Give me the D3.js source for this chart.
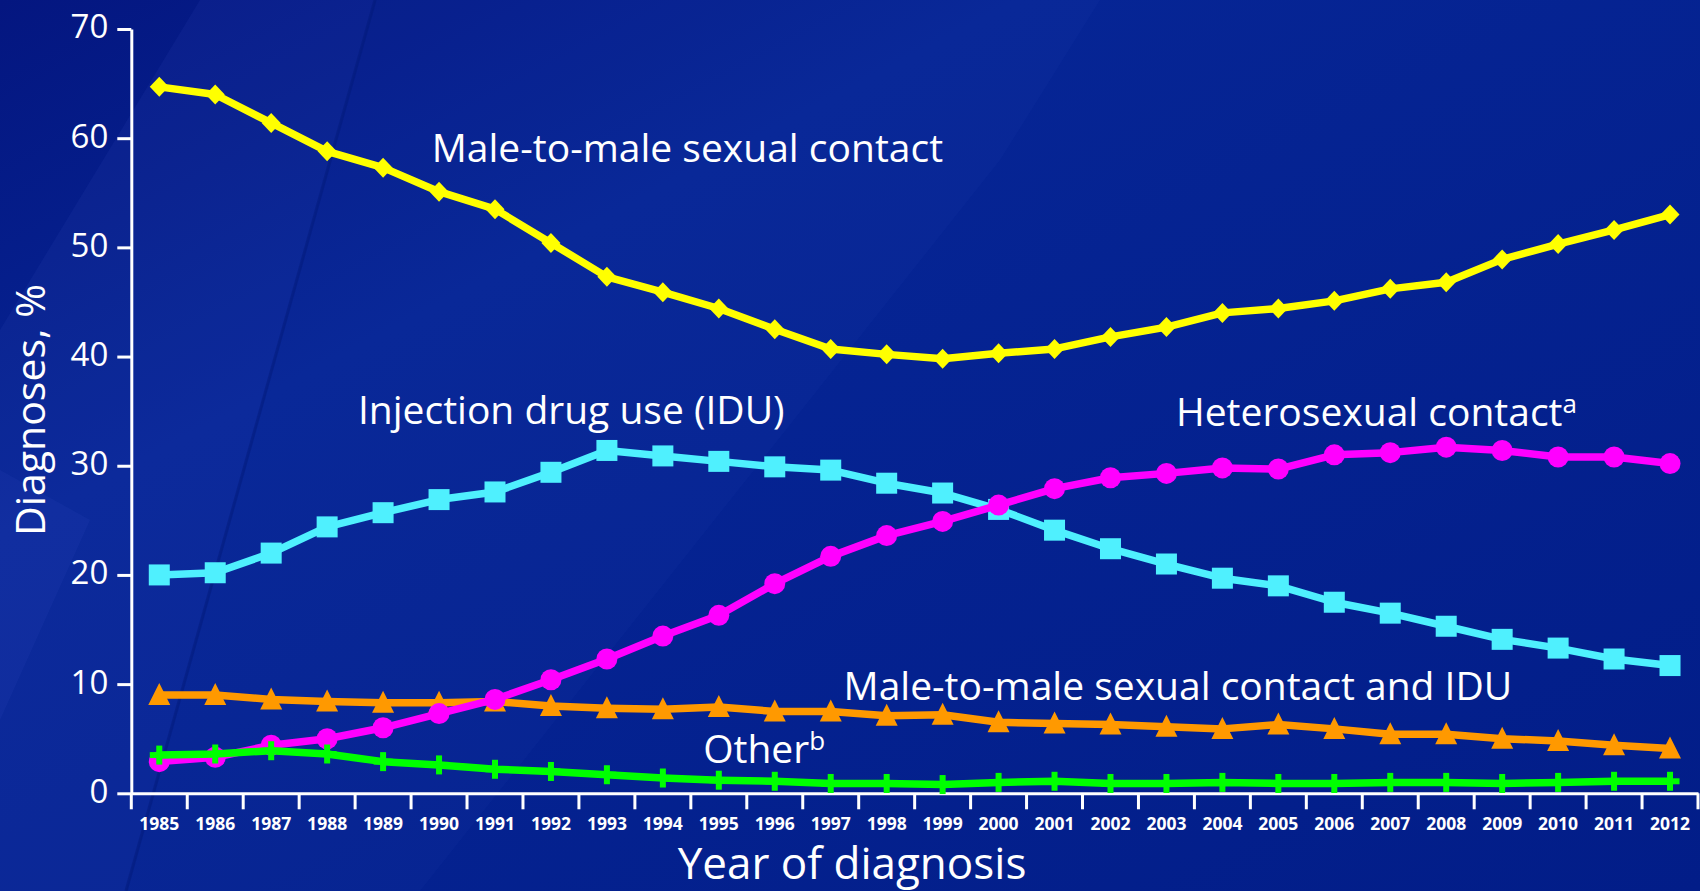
<!DOCTYPE html>
<html>
<head>
  <meta charset="utf-8">
  <title>HIV diagnoses by transmission category, 1985-2012</title>
  <script src="https://d3js.org/d3.v7.min.js"></script>
  <style>
    html, body { margin: 0; padding: 0; background: #03208c; }
    svg { display: block; font-family: "Open Sans", "Noto Sans", sans-serif; }
    .axis path, .axis line { stroke: #fff; stroke-width: 3; }
    .axis text { fill: #fff; }
  </style>
</head>
<body>
  <svg id="chart" width="1700" height="891"></svg>

  <script>
    // Data
    var years = ["1985", "1986", "1987", "1988", "1989", "1990", "1991", "1992", "1993", "1994",
                 "1995", "1996", "1997", "1998", "1999", "2000", "2001", "2002", "2003", "2004",
                 "2005", "2006", "2007", "2008", "2009", "2010", "2011", "2012"];

    var msm = [64.7, 64.0, 61.4, 58.8, 57.3, 55.1, 53.5, 50.4, 47.3, 45.9, 44.4, 42.5, 40.7, 40.2,
               39.8, 40.3, 40.7, 41.8, 42.7, 44.0, 44.4, 45.1, 46.2, 46.8, 48.9, 50.3, 51.6, 53.0];
    var idu = [20.0, 20.2, 22.0, 24.4, 25.7, 26.9, 27.6, 29.4, 31.4, 30.9, 30.4, 29.9, 29.6, 28.4,
               27.5, 26.0, 24.1, 22.4, 21.0, 19.7, 19.0, 17.5, 16.5, 15.3, 14.1, 13.3, 12.3, 11.7];
    var hetero = [2.9, 3.3, 4.4, 5.0, 6.0, 7.3, 8.6, 10.4, 12.3, 14.4, 16.3, 19.2, 21.7, 23.6,
                  24.9, 26.4, 27.9, 28.9, 29.3, 29.8, 29.7, 31.0, 31.2, 31.7, 31.4, 30.8, 30.8, 30.2];
    var msmIdu = [9.0, 9.0, 8.6, 8.4, 8.3, 8.3, 8.4, 8.0, 7.8, 7.7, 7.9, 7.5, 7.5, 7.1,
                  7.2, 6.5, 6.4, 6.3, 6.1, 5.9, 6.3, 5.9, 5.4, 5.4, 5.0, 4.8, 4.4, 4.1];
    var other = [3.5, 3.6, 3.9, 3.6, 2.9, 2.6, 2.2, 2.0, 1.7, 1.4, 1.2, 1.1, 0.9, 0.9,
                 0.8, 1.0, 1.1, 0.9, 0.9, 1.0, 0.9, 0.9, 1.0, 1.0, 0.9, 1.0, 1.1, 1.1];

    var yTicks = [0, 10, 20, 30, 40, 50, 60, 70];

    var width = 1700, height = 891;
    var svg = d3.select("#chart");

    // Background: deep blue with faint diagonal streaks
    var defs = svg.append("defs");
    var bg = defs.append("linearGradient").attr("id", "bg")
      .attr("x1", "0").attr("y1", "0").attr("x2", "1").attr("y2", "1");
    bg.append("stop").attr("offset", "0").attr("stop-color", "#041680");
    bg.append("stop").attr("offset", "0.3").attr("stop-color", "#062595");
    bg.append("stop").attr("offset", "1").attr("stop-color", "#021d88");
    svg.append("rect").attr("width", width).attr("height", height).attr("fill", "url(#bg)");

    var streaks = [
      { pts: [[0, 891], [126, 891], [375, 0], [200, 0], [0, 330]], op: 0.06 },
      { pts: [[126, 891], [420, 891], [1000, 160], [1100, 0], [375, 0]], op: 0.035 },
      { pts: [[0, 891], [0, 720], [90, 520], [0, 470]], op: 0.05 }
    ];
    svg.selectAll("polygon.streak").data(streaks).enter().append("polygon")
      .attr("class", "streak")
      .attr("points", function(d) { return d.pts.map(function(p) { return p.join(","); }).join(" "); })
      .attr("fill", "#6f8fff")
      .attr("opacity", function(d) { return d.op; });
    svg.append("line").attr("x1", 375).attr("y1", 0).attr("x2", 126).attr("y2", 891)
      .attr("stroke", "#031a7a").attr("stroke-width", 3).attr("opacity", 0.5);

    // Scales
    var x = d3.scaleBand().domain(years).range([131.3, 1698]).padding(0);
    var y = d3.scaleLinear().domain([0, 70]).range([793.3, 29]);
    var cx = function(i) { return x(years[i]) + x.bandwidth() / 2; };
    // fractional year position for annotations
    var xAt = d3.scaleLinear().domain([1985, 2012]).range([cx(0), cx(years.length - 1)]);

    // Y axis
    var yAxis = svg.append("g").attr("class", "axis")
      .attr("transform", "translate(131.3,0)")
      .call(d3.axisLeft(y).tickValues(yTicks).tickSize(14).tickSizeOuter(0).tickPadding(9))
      .attr("font-family", null);
    yAxis.selectAll("text").style("font-size", "33px").attr("dy", "0.27em");

    // X axis (labels centred in each year, ticks on the year boundaries)
    var xAxis = svg.append("g").attr("class", "axis")
      .attr("transform", "translate(0,793.3)")
      .call(d3.axisBottom(x).tickSize(0).tickPadding(24))
      .attr("font-family", null);
    xAxis.selectAll("text").style("font-size", "17.5px").style("font-weight", "bold");
    xAxis.selectAll("line.edge").data(years.concat(["end"])).enter().append("line")
      .attr("class", "edge")
      .attr("x1", function(d) { return d === "end" ? x.range()[1] : x(d); })
      .attr("x2", function(d) { return d === "end" ? x.range()[1] : x(d); })
      .attr("y1", 0).attr("y2", 16);

    // Axis titles
    svg.append("text")
      .attr("x", 852).attr("y", 879)
      .attr("text-anchor", "middle")
      .attr("fill", "#fff").style("font-size", "44px")
      .text("Year of diagnosis");
    svg.append("text")
      .attr("transform", "translate(45,410) rotate(-90)")
      .attr("text-anchor", "middle")
      .attr("fill", "#fff").style("font-size", "41px")
      .text("Diagnoses, %");

    // Marker shapes
    var markers = {
      diamond: function(g, c) {
        g.append("path").attr("d", "M0,-10L9.5,0L0,10L-9.5,0Z").attr("fill", c);
      },
      square: function(g, c) {
        g.append("rect").attr("x", -10.5).attr("y", -10.5).attr("width", 21).attr("height", 21).attr("fill", c);
      },
      circle: function(g, c) {
        g.append("circle").attr("r", 10.5).attr("fill", c);
      },
      triangle: function(g, c) {
        g.append("path").attr("d", "M0,-12L11,10L-11,10Z").attr("fill", c);
      },
      plus: function(g, c) {
        g.append("rect").attr("x", -3).attr("y", -9.5).attr("width", 6).attr("height", 19).attr("fill", c);
        g.append("rect").attr("x", -9.5).attr("y", -3).attr("width", 19).attr("height", 6).attr("fill", c);
      }
    };

    // Series, drawn bottom to top
    var series = [
      { values: msm, color: "#ffff00", marker: "diamond" },
      { values: idu, color: "#4ff0fe", marker: "square" },
      { values: msmIdu, color: "#ff9900", marker: "triangle" },
      { values: hetero, color: "#ff00ff", marker: "circle" },
      { values: other, color: "#00ff00", marker: "plus" }
    ];

    var line = d3.line()
      .x(function(d, i) { return cx(i); })
      .y(function(d) { return y(d); });

    series.forEach(function(s) {
      svg.append("path")
        .datum(s.values)
        .attr("d", line)
        .attr("fill", "none")
        .attr("stroke", s.color)
        .attr("stroke-width", 7.5)
        .attr("stroke-linejoin", "round");
      s.values.forEach(function(v, i) {
        var g = svg.append("g").attr("transform", "translate(" + cx(i) + "," + y(v) + ")");
        markers[s.marker](g, s.color);
      });
    });

    // Series labels: (year, value) of the start of each label's baseline
    var labels = [
      { text: "Male-to-male sexual contact", sup: "", at: [1989.87, 57.8] },
      { text: "Injection drug use (IDU)", sup: "", at: [1988.55, 33.8] },
      { text: "Heterosexual contact", sup: "a", at: [2003.17, 33.6] },
      { text: "Male-to-male sexual contact and IDU", sup: "", at: [1997.23, 8.55] },
      { text: "Other", sup: "b", at: [1994.72, 2.75] }
    ];
    labels.forEach(function(l) {
      var t = svg.append("text")
        .attr("x", xAt(l.at[0])).attr("y", y(l.at[1]))
        .attr("fill", "#fff").style("font-size", "39px")
        .text(l.text);
      if (l.sup) {
        t.append("tspan").attr("dy", -13).style("font-size", "26px").text(l.sup);
      }
    });
  </script>
</body>
</html>
